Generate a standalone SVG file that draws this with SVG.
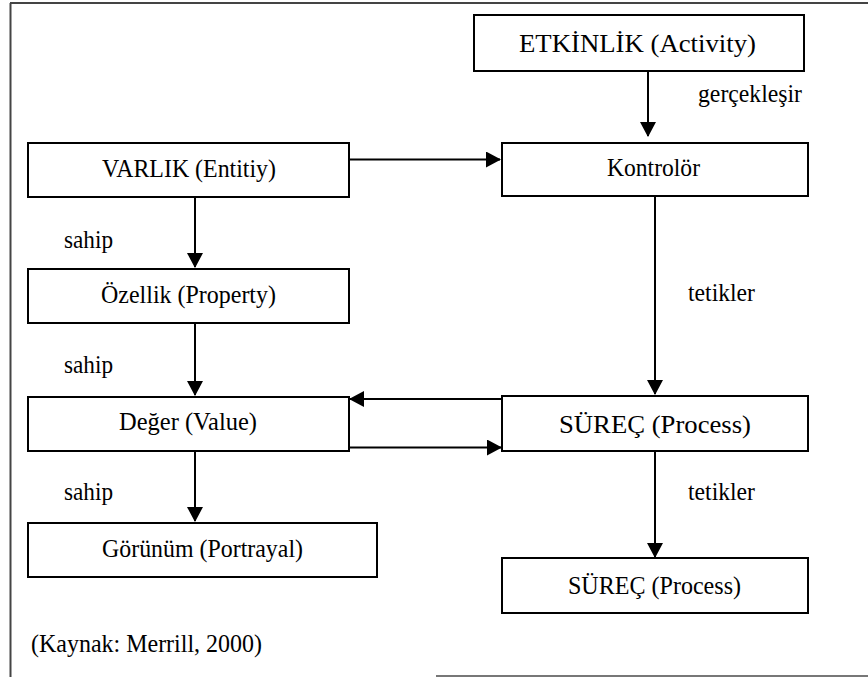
<svg xmlns="http://www.w3.org/2000/svg" width="868" height="677" viewBox="0 0 868 677" font-family="Liberation Serif" font-size="25">
<style>
.box{fill:#fff;stroke:#000;stroke-width:2}
.c{stroke:#000;stroke-width:2;fill:none}
.frame{stroke:#444;stroke-width:2;fill:none}
</style>
<defs>
<marker id="ah" markerUnits="userSpaceOnUse" markerWidth="16" markerHeight="16" refX="14" refY="8" orient="auto">
<path d="M0,0 L15,8 L0,16 Z" fill="#000"/>
</marker>
</defs>
<g id="frame">
<line class="frame" x1="10.5" y1="3" x2="10.5" y2="677"/>
<line class="frame" x1="10" y1="3" x2="868" y2="3"/>
<line x1="436" y1="676" x2="868" y2="676" stroke="#777" stroke-width="2"/>
</g>
<g id="connectors">
<line class="c" x1="648" y1="71" x2="648" y2="136" marker-end="url(#ah)"/>
<line class="c" x1="349" y1="159.5" x2="500" y2="159.5" marker-end="url(#ah)"/>
<line class="c" x1="195" y1="197" x2="195" y2="267" marker-end="url(#ah)"/>
<line class="c" x1="195" y1="323" x2="195" y2="395" marker-end="url(#ah)"/>
<line class="c" x1="195" y1="451" x2="195" y2="521" marker-end="url(#ah)"/>
<line class="c" x1="655" y1="196" x2="655" y2="394" marker-end="url(#ah)"/>
<line class="c" x1="502" y1="399" x2="350" y2="399" marker-end="url(#ah)"/>
<line class="c" x1="349" y1="447.5" x2="501" y2="447.5" marker-end="url(#ah)"/>
<line class="c" x1="655" y1="451" x2="655" y2="557" marker-end="url(#ah)"/>
<text x="698" y="102" textLength="104" lengthAdjust="spacingAndGlyphs">gerçekleşir</text>
<text x="64" y="248" textLength="49" lengthAdjust="spacingAndGlyphs">sahip</text>
<text x="64" y="373" textLength="49" lengthAdjust="spacingAndGlyphs">sahip</text>
<text x="64" y="500" textLength="49" lengthAdjust="spacingAndGlyphs">sahip</text>
<text x="688" y="301" textLength="67" lengthAdjust="spacingAndGlyphs">tetikler</text>
<text x="688" y="500" textLength="67" lengthAdjust="spacingAndGlyphs">tetikler</text>
</g>
<g id="etkinlik">
<rect class="box" x="474" y="15" width="330" height="56"/>
<text x="519" y="52" textLength="237" lengthAdjust="spacingAndGlyphs">ETKİNLİK (Activity)</text>
</g>
<g id="varlik">
<rect class="box" x="28" y="143" width="321" height="54"/>
<text x="102" y="177" textLength="174" lengthAdjust="spacingAndGlyphs">VARLIK (Entitiy)</text>
</g>
<g id="kontrolor">
<rect class="box" x="502" y="143" width="306" height="53"/>
<text x="607" y="176" textLength="93" lengthAdjust="spacingAndGlyphs">Kontrolör</text>
</g>
<g id="ozellik">
<rect class="box" x="28" y="269" width="321" height="54"/>
<text x="101" y="303" textLength="175" lengthAdjust="spacingAndGlyphs">Özellik (Property)</text>
</g>
<g id="deger">
<rect class="box" x="28" y="397" width="321" height="54"/>
<text x="119" y="430" textLength="138" lengthAdjust="spacingAndGlyphs">Değer (Value)</text>
</g>
<g id="gorunum">
<rect class="box" x="28" y="523" width="349" height="54"/>
<text x="102" y="557" textLength="201" lengthAdjust="spacingAndGlyphs">Görünüm (Portrayal)</text>
</g>
<g id="surec1">
<rect class="box" x="502" y="396" width="306" height="55"/>
<text x="559" y="433" textLength="192" lengthAdjust="spacingAndGlyphs">SÜREÇ (Process)</text>
</g>
<g id="surec2">
<rect class="box" x="502" y="558" width="306" height="55"/>
<text x="568" y="594" textLength="173" lengthAdjust="spacingAndGlyphs">SÜREÇ (Process)</text>
</g>
<g id="source">
<text x="31" y="652" textLength="231" lengthAdjust="spacingAndGlyphs">(Kaynak: Merrill, 2000)</text>
</g>
</svg>
